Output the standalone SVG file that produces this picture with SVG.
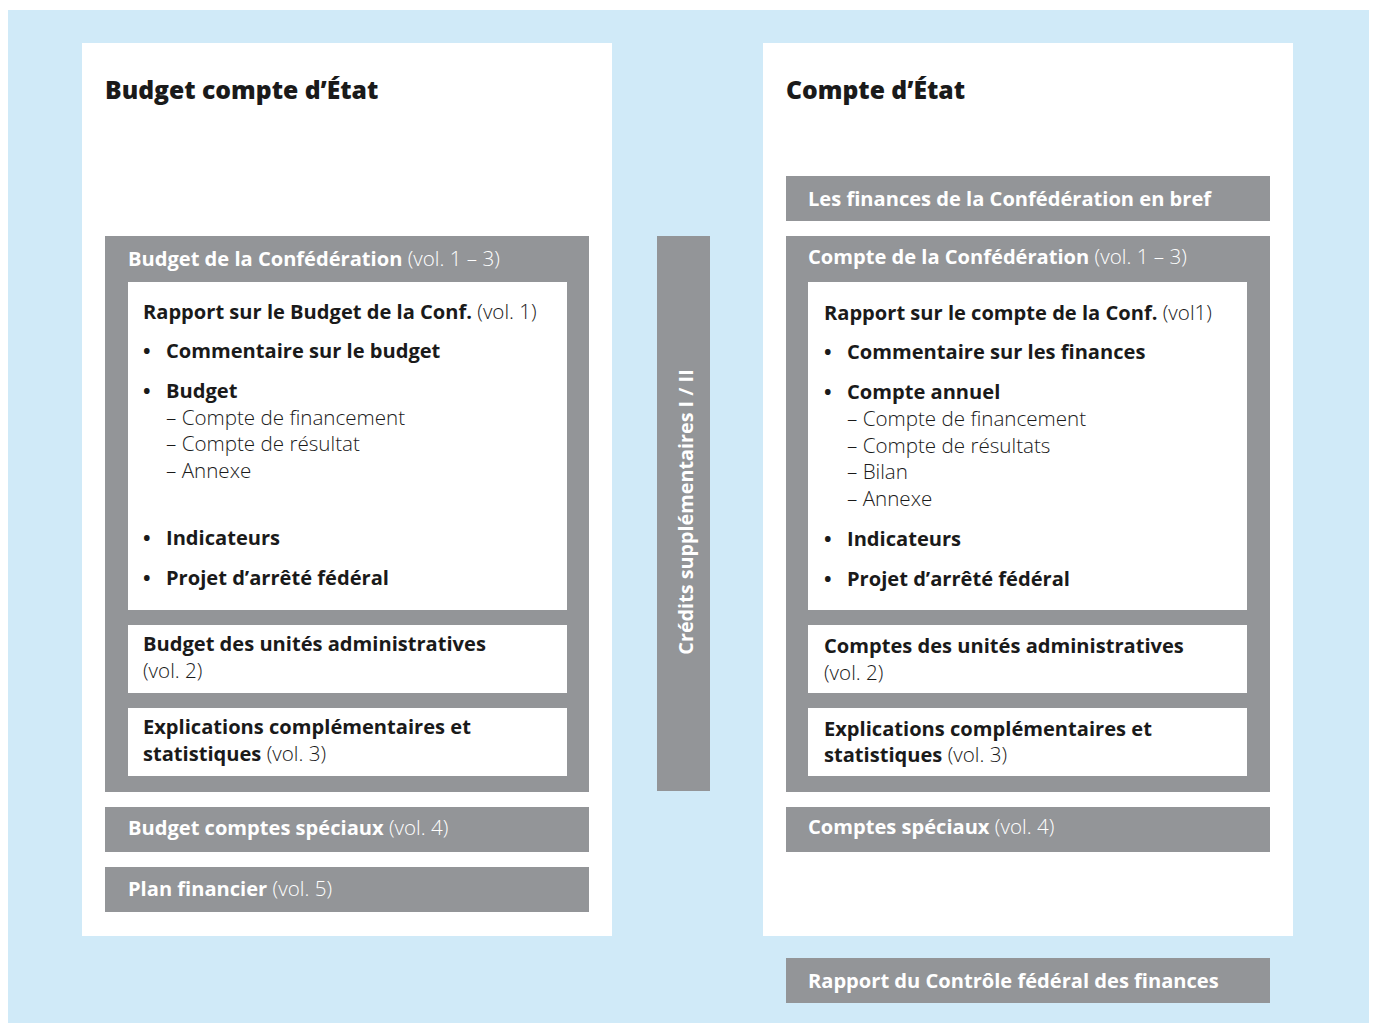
<svg xmlns="http://www.w3.org/2000/svg" width="1373" height="1023" viewBox="0 0 1373 1023">
  <style>
    .bg { fill: #d0eaf8; }
    .panel { fill: #ffffff; }
    .gray { fill: #939598; }
    .box { fill: #ffffff; }
    text { font-family: "Open Sans", "Noto Sans", "Liberation Sans", sans-serif; font-size: 20.1px; }
    .title { font-size: 24.7px; font-weight: 800; fill: #1a1a1a; }
    .dark { fill: #1a1a1a; }
    .light { fill: #ffffff; }
    .b { font-weight: 700; }
    .l { font-weight: 300; font-size: 20.6px; }
    .vert { font-size: 19.8px; font-weight: 700; }
  </style>

  <!-- background -->
  <rect class="bg" x="8" y="10" width="1361" height="1013"/>

  <!-- left column: budget -->
  <g id="budget-panel">
    <rect class="panel" x="82" y="43" width="530" height="893"/>
    <text class="title" x="105" y="99">Budget compte d’État</text>
  </g>

  <g id="budget-confederation">
    <rect class="gray" x="105" y="236" width="484" height="556"/>
    <text class="light" x="128" y="266"><tspan class="b">Budget de la Confédération</tspan><tspan class="l"> (vol. 1 – 3)</tspan></text>
  </g>

  <g id="rapport-budget">
    <rect class="box" x="128" y="282" width="439" height="328"/>
    <text class="dark" x="143" y="319"><tspan class="b">Rapport sur le Budget de la Conf.</tspan><tspan class="l"> (vol. 1)</tspan></text>
    <text class="dark b" x="143" y="358">•</text>
    <text class="dark b" x="166" y="358">Commentaire sur le budget</text>
    <text class="dark b" x="143" y="398">•</text>
    <text class="dark b" x="166" y="398">Budget</text>
    <text class="dark l" x="166" y="425">– Compte de financement</text>
    <text class="dark l" x="166" y="451">– Compte de résultat</text>
    <text class="dark l" x="166" y="478">– Annexe</text>
    <text class="dark b" x="143" y="545">•</text>
    <text class="dark b" x="166" y="545">Indicateurs</text>
    <text class="dark b" x="143" y="585">•</text>
    <text class="dark b" x="166" y="585">Projet d’arrêté fédéral</text>
  </g>

  <g id="budget-unites">
    <rect class="box" x="128" y="625" width="439" height="68"/>
    <text class="dark b" x="143" y="651">Budget des unités administratives</text>
    <text class="dark l" x="143" y="678">(vol. 2)</text>
  </g>

  <g id="budget-explications">
    <rect class="box" x="128" y="708" width="439" height="68"/>
    <text class="dark b" x="143" y="734">Explications complémentaires et</text>
    <text class="dark" x="143" y="761"><tspan class="b">statistiques</tspan><tspan class="l"> (vol. 3)</tspan></text>
  </g>

  <g id="budget-comptes-speciaux">
    <rect class="gray" x="105" y="807" width="484" height="45"/>
    <text class="light" x="128" y="835"><tspan class="b">Budget comptes spéciaux</tspan><tspan class="l"> (vol. 4)</tspan></text>
  </g>

  <g id="plan-financier">
    <rect class="gray" x="105" y="867" width="484" height="45"/>
    <text class="light" x="128" y="896"><tspan class="b">Plan financier</tspan><tspan class="l"> (vol. 5)</tspan></text>
  </g>

  <!-- middle bar -->
  <g id="credits-supplementaires">
    <rect class="gray" x="657" y="236" width="53" height="555"/>
    <text class="light vert" transform="translate(693 512) rotate(-90)" text-anchor="middle">Crédits supplémentaires I / II</text>
  </g>

  <!-- right column: state account -->
  <g id="compte-panel">
    <rect class="panel" x="763" y="43" width="530" height="893"/>
    <text class="title" x="786" y="99">Compte d’État</text>
  </g>

  <g id="finances-en-bref">
    <rect class="gray" x="786" y="176" width="484" height="45"/>
    <text class="light b" x="808" y="206">Les finances de la Confédération en bref</text>
  </g>

  <g id="compte-confederation">
    <rect class="gray" x="786" y="236" width="484" height="556"/>
    <text class="light" x="808" y="264"><tspan class="b">Compte de la Confédération</tspan><tspan class="l"> (vol. 1 – 3)</tspan></text>
  </g>

  <g id="rapport-compte">
    <rect class="box" x="808" y="282" width="439" height="328"/>
    <text class="dark" x="824" y="320"><tspan class="b">Rapport sur le compte de la Conf.</tspan><tspan class="l"> (vol1)</tspan></text>
    <text class="dark b" x="824" y="359">•</text>
    <text class="dark b" x="847" y="359">Commentaire sur les finances</text>
    <text class="dark b" x="824" y="399">•</text>
    <text class="dark b" x="847" y="399">Compte annuel</text>
    <text class="dark l" x="847" y="426">– Compte de financement</text>
    <text class="dark l" x="847" y="453">– Compte de résultats</text>
    <text class="dark l" x="847" y="479">– Bilan</text>
    <text class="dark l" x="847" y="506">– Annexe</text>
    <text class="dark b" x="824" y="546">•</text>
    <text class="dark b" x="847" y="546">Indicateurs</text>
    <text class="dark b" x="824" y="586">•</text>
    <text class="dark b" x="847" y="586">Projet d’arrêté fédéral</text>
  </g>

  <g id="comptes-unites">
    <rect class="box" x="808" y="625" width="439" height="68"/>
    <text class="dark b" x="824" y="653">Comptes des unités administratives</text>
    <text class="dark l" x="824" y="680">(vol. 2)</text>
  </g>

  <g id="compte-explications">
    <rect class="box" x="808" y="708" width="439" height="68"/>
    <text class="dark b" x="824" y="736">Explications complémentaires et</text>
    <text class="dark" x="824" y="762"><tspan class="b">statistiques</tspan><tspan class="l"> (vol. 3)</tspan></text>
  </g>

  <g id="comptes-speciaux">
    <rect class="gray" x="786" y="807" width="484" height="45"/>
    <text class="light" x="808" y="834"><tspan class="b">Comptes spéciaux</tspan><tspan class="l"> (vol. 4)</tspan></text>
  </g>

  <g id="rapport-cdf">
    <rect class="gray" x="786" y="958" width="484" height="45"/>
    <text class="light b" x="808" y="988">Rapport du Contrôle fédéral des finances</text>
  </g>

  <!-- no connectors in this figure -->
  <g id="connectors"/>
</svg>
